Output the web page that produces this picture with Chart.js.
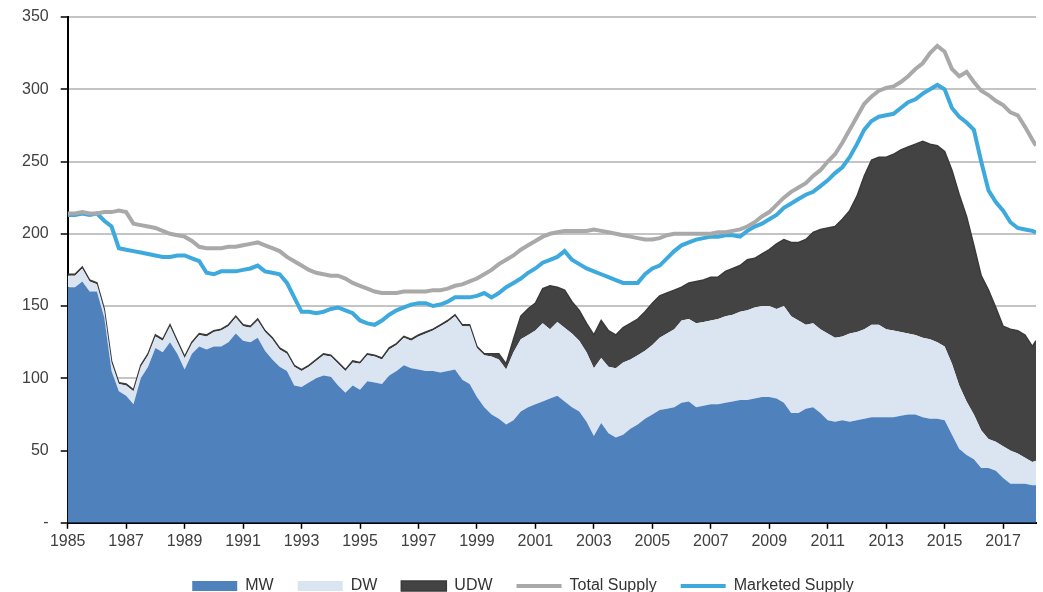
<!DOCTYPE html>
<html>
<head>
<meta charset="utf-8">
<title>Supply chart</title>
<script src="https://cdn.jsdelivr.net/npm/chart.js@4.4.1/dist/chart.umd.min.js"></script>
<style>
  html, body { margin: 0; padding: 0; background: #fff; }
  #wrap { width: 1043px; height: 592px; position: relative; }
</style>
</head>
<body>
<div id="wrap"><canvas id="supplyChart"></canvas></div>
<script>
// quarterly readings, 1985 Q1 .. 2018 Q1 (last point early 2018)
const quarters = [...Array(133)].map((_, i) => 1985 + i * 0.25).concat([2018.125]);

const tickYears = [1985, 1987, 1989, 1991, 1993, 1995, 1997, 1999, 2001, 2003, 2005, 2007, 2009, 2011, 2013, 2015, 2017];
const yTicks = [0, 50, 100, 150, 200, 250, 300, 350];
const yTickLabels = ['-', '50', '100', '150', '200', '250', '300', '350'];
const seriesNames = ['MW', 'DW', 'UDW', 'Total Supply', 'Marketed Supply'];

const mw = [
  163, 163, 167, 160,  // 1985
  160, 142, 105, 91,   // 1986
  88, 82, 100, 108,    // 1987
  121, 118, 125, 117,  // 1988
  106, 117, 122, 120,  // 1989
  122, 122, 125, 131,  // 1990
  126, 125, 128, 119,  // 1991
  113, 108, 105, 95,   // 1992
  94, 97, 100, 102,    // 1993
  101, 95, 90, 95,     // 1994
  92, 98, 97, 96,      // 1995
  102, 105, 109, 107,  // 1996
  106, 105, 105, 104,  // 1997
  105, 106, 99, 96,    // 1998
  87, 80, 75, 72,      // 1999
  68, 71, 77, 80,      // 2000
  82, 84, 86, 88,      // 2001
  84, 80, 77, 70,      // 2002
  60, 69, 62, 59,      // 2003
  61, 65, 68, 72,      // 2004
  75, 78, 79, 80,      // 2005
  83, 84, 80, 81,      // 2006
  82, 82, 83, 84,      // 2007
  85, 85, 86, 87,      // 2008
  87, 86, 83, 76,      // 2009
  76, 79, 80, 76,      // 2010
  71, 70, 71, 70,      // 2011
  71, 72, 73, 73,      // 2012
  73, 73, 74, 75,      // 2013
  75, 73, 72, 72,      // 2014
  71, 61, 51, 47,      // 2015
  44, 38, 38, 36,      // 2016
  31, 27, 27, 27,      // 2017
  26, 26               // 2018
];

const dw = [
  8, 8, 9, 7,
  5, 5, 6, 5,
  7, 9, 8, 8,
  8, 8, 11, 8,
  8, 7, 8, 9,
  10, 11, 11, 11,
  10, 10, 12, 13,
  14, 12, 12, 13,
  11, 11, 12, 14,
  14, 15, 15, 16,
  18, 18, 18, 17,
  18, 18, 19, 19,
  23, 26, 28, 32,
  34, 37, 37, 40,
  34, 36, 40, 41,
  38, 47, 50, 50,
  51, 54, 48, 51,
  51, 51, 49, 48,
  47, 45, 46, 48,
  50, 48, 48, 47,
  48, 50, 52, 54,
  57, 57, 58, 58,
  58, 59, 60, 60,
  61, 62, 63, 63,
  63, 62, 67, 67,
  64, 58, 58, 58,
  60, 58, 58, 61,
  61, 62, 64, 64,
  61, 60, 58, 56,
  55, 55, 55, 53,
  51, 49, 44, 37,
  31, 26, 20, 20,
  22, 23, 21, 18,
  16, 17
];

const udw = [
  1, 1, 1, 1,
  1, 1, 1, 1,
  1, 1, 1, 1,
  1, 1, 1, 1,
  1, 1, 1, 1,
  1, 1, 1, 1,
  1, 1, 1, 1,
  1, 1, 1, 1,
  1, 1, 1, 1,
  1, 1, 1, 1,
  1, 1, 1, 1,
  1, 1, 1, 1,
  1, 1, 1, 1,
  1, 1, 1, 1,
  1, 1, 2, 4,
  4, 9, 16, 18,
  19, 24, 30, 24,
  26, 22, 21, 20,
  23, 26, 25, 23,
  24, 25, 25, 27,
  29, 29, 28, 27,
  23, 25, 29, 29,
  30, 29, 31, 32,
  32, 35, 34, 36,
  39, 45, 46, 51,
  54, 59, 63, 69,
  73, 77, 81, 85,
  94, 106, 114, 116,
  119, 122, 126, 129,
  132, 136, 135, 136,
  135, 134, 132, 128,
  117, 107, 103, 93,
  83, 84, 85, 85,
  80, 83
];

const totalSupply = [
  214, 214, 215, 214,
  214, 215, 215, 216,
  215, 207, 206, 205,
  204, 202, 200, 199,
  198, 195, 191, 190,
  190, 190, 191, 191,
  192, 193, 194, 192,
  190, 188, 184, 181,
  178, 175, 173, 172,
  171, 171, 169, 166,
  164, 162, 160, 159,
  159, 159, 160, 160,
  160, 160, 161, 161,
  162, 164, 165, 167,
  169, 172, 175, 179,
  182, 185, 189, 192,
  195, 198, 200, 201,
  202, 202, 202, 202,
  203, 202, 201, 200,
  199, 198, 197, 196,
  196, 197, 199, 200,
  200, 200, 200, 200,
  200, 201, 201, 202,
  203, 205, 208, 212,
  215, 220, 225, 229,
  232, 235, 240, 244,
  250, 255, 263, 272,
  281, 290, 295, 299,
  301, 302, 305, 309,
  314, 318, 325, 330,
  326, 314, 309, 312,
  305, 299, 296, 292,
  289, 284, 282, 274,
  265, 261
];

const marketedSupply = [
  213, 213, 214, 213,
  214, 209, 205, 190,
  189, 188, 187, 186,
  185, 184, 184, 185,
  185, 183, 181, 173,
  172, 174, 174, 174,
  175, 176, 178, 174,
  173, 172, 166, 156,
  146, 146, 145, 146,
  148, 149, 147, 145,
  140, 138, 137, 140,
  144, 147, 149, 151,
  152, 152, 150, 151,
  153, 156, 156, 156,
  157, 159, 156, 159,
  163, 166, 169, 173,
  176, 180, 182, 184,
  188, 182, 179, 176,
  174, 172, 170, 168,
  166, 166, 166, 172,
  176, 178, 183, 188,
  192, 194, 196, 197,
  198, 198, 199, 199,
  198, 202, 205, 207,
  210, 213, 218, 221,
  224, 227, 229, 233,
  237, 242, 246, 253,
  262, 272, 278, 281,
  282, 283, 287, 291,
  293, 297, 300, 303,
  300, 287, 281, 277,
  272, 250, 230, 222,
  216, 208, 204, 203,
  202, 201
];

function points(values) {
  return values.map((v, i) => ({ x: quarters[i], y: v }));
}

function renderSupplyChart() {
    const ctx = document.getElementById('supplyChart').getContext('2d');
    const chart = new Chart(ctx, {
        type: 'line',
        data: {
            datasets: [
                {
                    label: seriesNames[0],
                    data: points(mw),
                    stack: 'ships',
                    fill: 'origin',
                    backgroundColor: '#4f81bd',
                    borderColor: '#4f81bd',
                    borderWidth: 0,
                    pointStyle: 'rect',
                    order: 1
                },
                {
                    label: seriesNames[1],
                    data: points(dw),
                    stack: 'ships',
                    fill: '-1',
                    backgroundColor: '#dbe5f1',
                    borderColor: '#dbe5f1',
                    borderWidth: 0,
                    pointStyle: 'rect',
                    order: 1
                },
                {
                    label: seriesNames[2],
                    data: points(udw),
                    stack: 'ships',
                    fill: '-1',
                    backgroundColor: '#434343',
                    borderColor: '#3a3a3a',
                    borderWidth: 1.5,
                    pointStyle: 'rect',
                    order: 1
                },
                {
                    label: seriesNames[3],
                    data: points(totalSupply),
                    stack: 'total',
                    fill: false,
                    borderColor: '#a9a9a9',
                    backgroundColor: '#a9a9a9',
                    borderWidth: 4,
                    pointStyle: 'line',
                    order: 0
                },
                {
                    label: seriesNames[4],
                    data: points(marketedSupply),
                    stack: 'marketed',
                    fill: false,
                    borderColor: '#3ea9dd',
                    backgroundColor: '#3ea9dd',
                    borderWidth: 4,
                    pointStyle: 'line',
                    order: 0
                }
            ]
        },
        options: {
            responsive: true,
            maintainAspectRatio: false,
            animation: false,
            elements: {
                point: { radius: 0, hoverRadius: 0 },
                line: { tension: 0 }
            },
            layout: {
                padding: { left: 10, right: 7, top: 17, bottom: 0 }
            },
            scales: {
                x: {
                    type: 'linear',
                    min: 1985,
                    max: 2018.125,
                    afterBuildTicks: (scale) => {
                        scale.ticks = tickYears.map(v => ({ value: v }));
                    },
                    border: { color: '#000', width: 2 },
                    grid: {
                        drawOnChartArea: false,
                        tickLength: 6,
                        tickColor: '#000',
                        tickWidth: 1.5
                    },
                    ticks: {
                        autoSkip: false,
                        maxRotation: 0,
                        padding: 3,
                        color: '#404040',
                        font: { family: 'Arial, "Liberation Sans", sans-serif', size: 16 },
                        callback: (value) => String(value)
                    }
                },
                y: {
                    stacked: true,
                    min: 0,
                    max: 350,
                    afterBuildTicks: (scale) => {
                        scale.ticks = yTicks.map(v => ({ value: v }));
                    },
                    // tick padding is horizontal here, keep it from pushing the top down
                    afterFit: (scale) => {
                        scale.paddingTop = 8;
                    },
                    border: { color: '#000', width: 2 },
                    grid: {
                        color: '#c4c4c4',
                        lineWidth: 2,
                        tickLength: 7,
                        tickColor: '#000',
                        tickWidth: 1.5
                    },
                    ticks: {
                        padding: 12,
                        color: '#404040',
                        font: { family: 'Arial, "Liberation Sans", sans-serif', size: 16 },
                        callback: (value) => yTickLabels[yTicks.indexOf(value)]
                    }
                }
            },
            plugins: {
                tooltip: { enabled: false },
                legend: {
                    position: 'bottom',
                    maxHeight: 38,
                    labels: {
                        usePointStyle: true,
                        pointStyleWidth: 45,
                        boxHeight: 10,
                        padding: 24,
                        color: '#333',
                        font: { family: 'Arial, "Liberation Sans", sans-serif', size: 16 },
                        sort: (a, b) => a.datasetIndex - b.datasetIndex
                    }
                }
            }
        }
    });
    return chart;
}

window.addEventListener('DOMContentLoaded', () => {
    renderSupplyChart();
});
</script>
</body>
</html>
